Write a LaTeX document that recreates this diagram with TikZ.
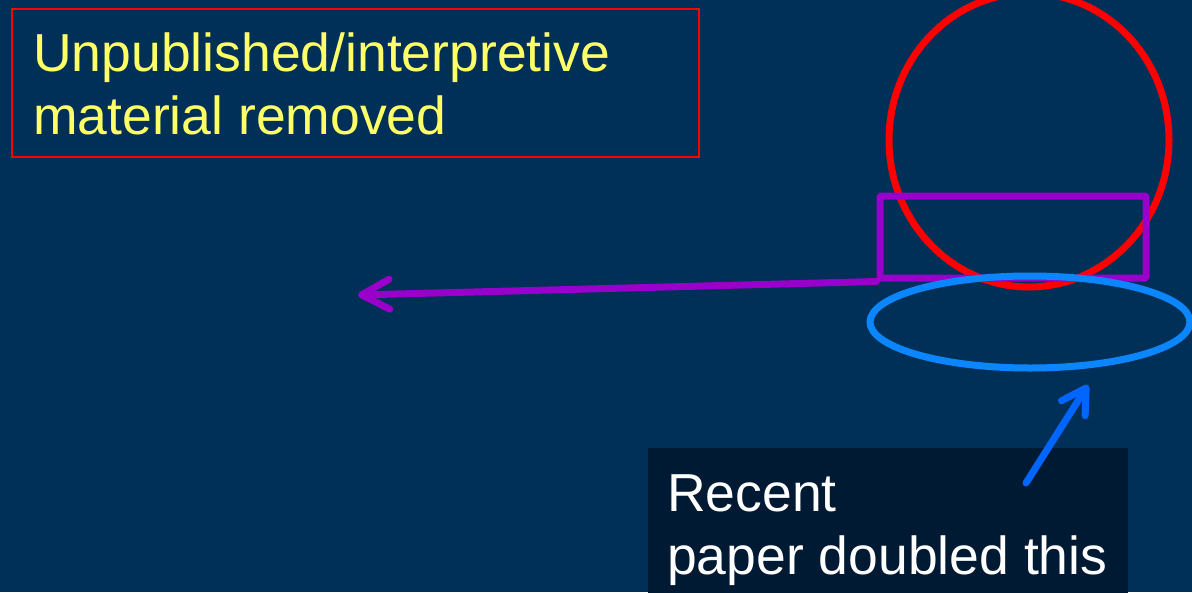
\documentclass[tikz,border=0pt]{standalone}
\usepackage{fontspec}
\setmainfont{Liberation Sans}
\usetikzlibrary{arrows.meta,shapes.geometric}
\definecolor{bgnavy}{RGB}{0,48,87}
\definecolor{darkbox}{RGB}{0,26,51}
\definecolor{softyellow}{RGB}{255,255,102}
\definecolor{vpurple}{RGB}{153,0,204}
\definecolor{skyblue}{RGB}{12,134,255}
\definecolor{arrowblue}{RGB}{0,102,255}
\tikzset{
  bigtext/.style={font=\fontsize{53.5}{63}\selectfont, inner sep=0pt, anchor=base west},
  barb/.style={-{Straight Barb[length=28pt,width=30pt,line cap=round,line join=round]}, line cap=round, line join=round}
}
\begin{document}
\begin{tikzpicture}[x=1pt,y=-1pt]
\fill[bgnavy] (0,0) rectangle (1192,592);
\useasboundingbox (0,0) rectangle (1192,592);
% top label box
\node[draw=red, line width=1.5pt, minimum width=687pt, minimum height=148pt, anchor=north west, inner sep=0pt] (topbox) at (11,8) {};
\node[bigtext, text=softyellow] (topline1) at (33,71) {Unpublished/interpretive};
\node[bigtext, text=softyellow] (topline2) at (33,134) {material removed};
% red circle
\node[draw=red, line width=7pt, ellipse, minimum width=280pt, minimum height=294pt, inner sep=0pt] (redcirc) at (1029,140) {};
% purple rectangle
\node[draw=vpurple, line width=7pt, minimum width=266pt, minimum height=82pt, inner sep=0pt, rounded corners=1pt] (prect) at (1013,237) {};
% blue ellipse
\node[draw=skyblue, line width=7pt, ellipse, minimum width=320pt, minimum height=92pt, inner sep=0pt] (bellipse) at (1030,322) {};
% purple arrow
\coordinate (ptip) at (358,295);
\draw[barb, draw=vpurple, line width=7pt] (prect.south west) -- (ptip);
% bottom dark box
\node[fill=darkbox, minimum width=480pt, minimum height=150pt, anchor=north west, inner sep=0pt] (botbox) at (648,448) {};
\node[bigtext, text=white] (botline1) at (667,511) {Recent};
\node[bigtext, text=white] (botline2) at (667,574) {paper doubled this};
% blue arrow
\coordinate (bstart) at (1026,483);
\coordinate (btip) at (1088,385);
\draw[-{Straight Barb[length=24pt,width=28pt,line cap=round,line join=round]}, line cap=round, draw=arrowblue, line width=7pt] (bstart) -- (btip);
\end{tikzpicture}
\end{document}
